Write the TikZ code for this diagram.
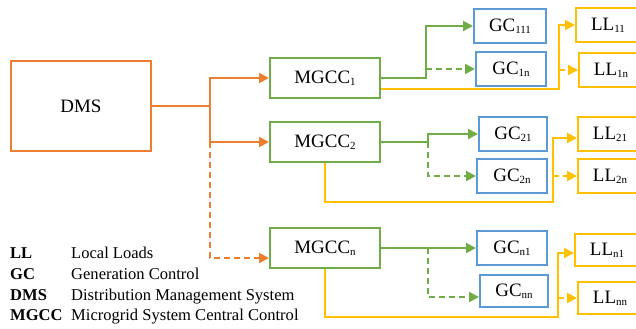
\documentclass[tikz,border=0pt]{standalone}
\usepackage{fontspec}
\setmainfont{Liberation Serif}
\usetikzlibrary{arrows.meta}

\definecolor{cOrange}{HTML}{ED7D31}
\definecolor{cGreen}{HTML}{70AD47}
\definecolor{cBlue}{HTML}{5B9BD5}
\definecolor{cYellow}{HTML}{FFC000}

\newcommand{\idx}[1]{\raisebox{-0.25ex}{\fontsize{11}{11}\selectfont #1}}

\begin{document}
\begin{tikzpicture}[x=1bp,y=-1bp]
        \clip (0,0) rectangle (636,328);
        \begin{scope}[line width=2bp, >={Triangle[length=10bp,width=10bp]},
                      every node/.style={draw, inner sep=0pt, font=\fontsize{19}{22}\selectfont},
                      dsh/.style={dash pattern=on 6bp off 4bp}]
                \node[draw=cOrange, minimum width=140bp, minimum height=90bp] (DMS) at (81,106) {DMS};

                \node[draw=cGreen, minimum width=110bp, minimum height=40bp] (M1) at (325,78) {MGCC\idx{1}};
                \node[draw=cGreen, minimum width=110bp, minimum height=40bp] (M2) at (325,142) {MGCC\idx{2}};
                \node[draw=cGreen, minimum width=110bp, minimum height=40bp] (Mn) at (325,248) {MGCC\idx{n}};

                \node[draw=cBlue, minimum width=72bp, minimum height=34bp] (G11) at (510,26) {GC\idx{111}};
                \node[draw=cBlue, minimum width=70bp, minimum height=34bp] (G1n) at (511,69) {GC\idx{1n}};
                \node[draw=cBlue, minimum width=68bp, minimum height=34bp] (G21) at (513,134) {GC\idx{21}};
                \node[draw=cBlue, minimum width=70bp, minimum height=34bp] (G2n) at (512,176) {GC\idx{2n}};
                \node[draw=cBlue, minimum width=70bp, minimum height=34bp] (Gn1) at (512,248) {GC\idx{n1}};
                \node[draw=cBlue, minimum width=68bp, minimum height=32bp] (Gnn) at (514,291) {GC\idx{nn}};

                \node[draw=cYellow, minimum width=64bp, minimum height=34bp] (L11) at (608,25) {LL\idx{11}};
                \node[draw=cYellow, minimum width=64bp, minimum height=34bp] (L1n) at (611,70) {LL\idx{1n}};
                \node[draw=cYellow, minimum width=64bp, minimum height=34bp] (L21) at (610,134) {LL\idx{21}};
                \node[draw=cYellow, minimum width=64bp, minimum height=34bp] (L2n) at (610,176) {LL\idx{2n}};
                \node[draw=cYellow, minimum width=64bp, minimum height=32bp] (Ln1) at (607,250) {LL\idx{n1}};
                \node[draw=cYellow, minimum width=64bp, minimum height=32bp] (Lnn) at (610,298) {LL\idx{nn}};

                \coordinate (J0) at (210,106);
                \coordinate (J1) at (426,78);
                \coordinate (J2) at (428,142);
                \coordinate (Jn) at (428,248);
                \coordinate (K1) at (559,89);
                \coordinate (K2) at (553,202);
                \coordinate (Kn) at (558,317);

                % DMS to the central controls
                \draw[cOrange] (DMS.east) -- (J0);
                \draw[cOrange, ->] (J0) |- (M1.west);
                \draw[cOrange, ->] (J0) |- (M2.west);
                \draw[cOrange, dsh, ->] (J0 |- M2.west) |- ([yshift=-10bp]Mn.west);

                % generation control
                \draw[cGreen, ->] (M1.east) -- (J1) |- (G11.west);
                \draw[cGreen, dsh, ->] (J1 |- G1n.west) -- (G1n.west);
                \draw[cGreen, ->] (M2.east) -- (J2) |- (G21.west);
                \draw[cGreen, dsh, ->] (J2) |- (G2n.west);
                \draw[cGreen, ->] (Mn.east) -- (Gn1.west);
                \draw[cGreen, dsh, ->] (Jn) |- ([yshift=-6bp]Gnn.west);

                % local loads
                \draw[cYellow, ->] (M1.east |- K1) -- (K1) |- (L11.west);
                \draw[cYellow, dsh, ->] (K1 |- L1n.west) -- (L1n.west);
                \draw[cYellow, ->] (M2.south) |- (K2) |- ([yshift=-4bp]L21.west);
                \draw[cYellow, dsh, ->] (K2 |- L2n.west) -- (L2n.west);
                \draw[cYellow, ->] (Mn.south) |- (Kn) |- ([yshift=-3bp]Ln1.west);
                \draw[cYellow, dsh, ->] (Kn |- Lnn.west) -- (Lnn.west);
        \end{scope}

        % legend
        \begin{scope}[every node/.style={anchor=base west, inner sep=0pt, font=\fontsize{16.6}{19}\selectfont}]
                \node (kLL) at (10,258) {\textbf{LL}};
                \node (kGC) at (10,279) {\textbf{GC}};
                \node (kDMS) at (10,300.5) {\textbf{DMS}};
                \node (kMGCC) at (10,320) {\textbf{MGCC}};
                \node (dLL) at (71,258) {Local Loads};
                \node (dGC) at (71,279) {Generation Control};
                \node (dDMS) at (71,300.5) {Distribution Management System};
                \node (dMGCC) at (71,320) {Microgrid System Central Control};
        \end{scope}
\end{tikzpicture}
\end{document}
